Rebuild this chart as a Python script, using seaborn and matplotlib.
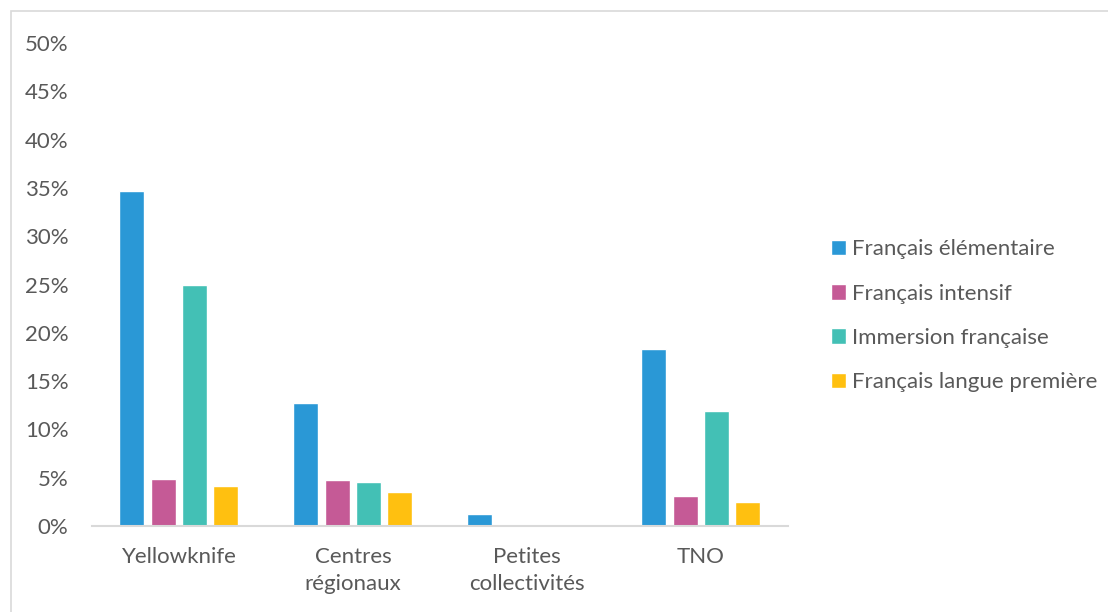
import pandas as pd
import seaborn as sns
import matplotlib.pyplot as plt
from matplotlib.patches import Rectangle
from matplotlib.ticker import PercentFormatter

# Données
regions = ["Yellowknife", "Centres\nrégionaux", "Petites\ncollectivités", "TNO"]
programmes = ["Français élémentaire", "Français intensif",
              "Immersion française", "Français langue première"]
francais_elementaire = [0.347, 0.127, 0.012, 0.183]
francais_intensif = [0.049, 0.048, 0.0, 0.031]
immersion = [0.249, 0.046, 0.0, 0.119]
langue_premiere = [0.041, 0.035, 0.0, 0.025]

couleurs = ["#2A98D6", "#C55A96", "#43C0B5", "#FFC010"]
gris = "#595959"

valeurs = [francais_elementaire, francais_intensif, immersion, langue_premiere]
df = pd.DataFrame({
    "region": regions * len(programmes),
    "programme": [p for p in programmes for _ in regions],
    "part": [v for serie in valeurs for v in serie],
})

sns.set_style("white")
plt.rcParams["font.family"] = ["Lato", "DejaVu Sans"]

fig = plt.figure(figsize=(11.08, 6.12), dpi=100)
ax = fig.add_axes([0.083, 0.1405, 0.628, 0.7892])

sns.barplot(data=df, x="region", y="part", hue="programme",
            order=regions, hue_order=programmes, palette=couleurs,
            width=0.72, gap=0.2, saturation=1, ax=ax)

ax.set_ylim(0, 0.5)
ax.set_yticks([i * 0.05 for i in range(11)])
ax.yaxis.set_major_formatter(PercentFormatter(1.0, decimals=0))
ax.set_xlabel("")
ax.set_ylabel("")
ax.tick_params(axis="both", length=0, labelsize=16, colors=gris)
ax.tick_params(axis="y", pad=17)
ax.tick_params(axis="x", pad=15)
for lab in ax.get_xticklabels():
    lab.set_linespacing(1.45)
for s in ["top", "right", "left"]:
    ax.spines[s].set_visible(False)
ax.spines["bottom"].set_color("#D9D9D9")
ax.spines["bottom"].set_linewidth(1.5)

handles, labels = ax.get_legend_handles_labels()
ax.get_legend().remove()
fig.legend(handles, labels, loc="center left", bbox_to_anchor=(0.7315, 0.484),
           frameon=False, fontsize=16, labelcolor=gris, handlelength=0.7,
           handleheight=0.7, handletextpad=0.25, labelspacing=1.1)

# Cadre du graphique
fig.patches.append(Rectangle((11 / 1108, -0.01), 1.0, 1 - 11 / 612 + 0.01,
                             transform=fig.transFigure, fill=False,
                             edgecolor="#D9D9D9", linewidth=1.2))

fig.savefig("out.png", dpi=100)
